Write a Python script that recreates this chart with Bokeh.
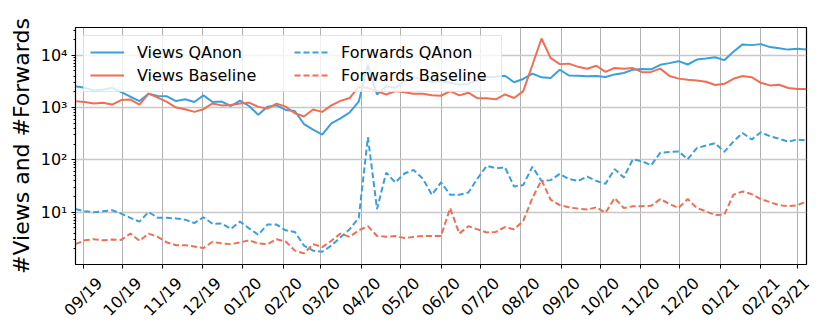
import pandas as pd
from math import pi
from bokeh.plotting import figure
from bokeh.models import FixedTicker, DatetimeTickFormatter, Legend, LegendItem, Range1d
from bokeh.embed import file_html
from bokeh.resources import INLINE

# ---------------- data (weekly, starting Monday 2019-08-26) ----------------
first_week = "2019-08-26"
n_weeks = 81
weeks = pd.date_range(first_week, periods=n_weeks, freq="7D")

views_qanon = [2560, 2380, 2120, 2180, 2380, 1970, 1610, 1330, 1840, 1660,
               1640, 1330, 1440, 1280, 1710, 1280, 1300, 1070, 1360, 1070,
               725, 1040, 1100, 900, 860, 484, 378, 304, 499, 620,
               805, 1300, 6560, 1780, 2560, 2380, 3180, 3780, 3420, 3090,
               3180, 2970, 2760, 2830, 3300, 3840, 3890, 4060, 3040, 3520,
               4440, 3780, 3680, 5280, 4100, 4060, 3950, 4000, 3840, 4300,
               4580, 5300, 5440, 5380, 6560, 7060, 7700, 6650, 8260, 8630,
               9170, 8050, 11700, 16100, 15600, 16300, 14300, 13600, 12800, 13300,
               12800]

views_baseline = [1315, 1280, 1190, 1240, 1140, 1390, 1420, 1140, 1840, 1550,
                  1280, 1000, 930, 826, 930, 1200, 1100, 1120, 1200, 1240,
                  1030, 957, 1190, 1040, 780, 676, 917, 826, 1100, 1340,
                  1520, 2500, 2380, 2060, 1780, 2060, 1970, 1840, 1840, 1710,
                  1680, 2060, 1710, 1920, 1500, 1500, 1440, 1780, 1520, 2060,
                  6500, 20900, 8780, 6760, 6900, 6000, 5500, 6300, 4800, 5690,
                  5500, 5690, 4750, 4800, 5550, 4000, 3570, 3400, 3300, 3110,
                  2700, 2840, 3550, 4000, 3800, 2970, 2650, 2720, 2360, 2260,
                  2260]

forwards_qanon = [11.5, 10.4, 10.0, 10.4, 10.9, 9.4, 7.8, 6.6, 10.1, 7.8,
                  7.8, 7.6, 7.2, 6.2, 8.0, 6.0, 6.1, 4.8, 6.6, 4.9,
                  3.7, 5.8, 5.8, 4.5, 4.2, 2.3, 1.84, 1.75, 2.3, 3.3,
                  4.7, 7.8, 272, 11.5, 57, 37, 55, 64, 44, 21.5,
                  37, 21.5, 21.5, 23.8, 44, 77, 69, 72, 31, 33,
                  74, 39.5, 41, 54, 43, 39.5, 48, 39.5, 35, 66.5,
                  46, 103, 94, 79, 137, 142, 145, 103, 168, 188,
                  209, 142, 224, 327, 245, 337, 284, 253, 224, 245,
                  234]

forwards_baseline = [2.45, 2.9, 3.04, 2.9, 3.0, 2.95, 3.9, 2.84, 3.9, 3.37,
                     2.64, 2.34, 2.34, 2.21, 2.06, 2.72, 2.52, 2.45, 2.64, 2.9,
                     2.52, 2.45, 3.04, 2.75, 1.84, 1.63, 2.45, 2.15, 2.84, 3.9,
                     3.37, 4.5, 5.4, 3.5, 3.4, 3.5, 3.2, 3.37, 3.5, 3.5,
                     3.5, 12.0, 3.9, 5.4, 4.7, 4.1, 4.2, 5.2, 4.7, 6.8,
                     18.6, 41, 17.3, 13.6, 12.4, 11.7, 11.2, 12.4, 9.7, 18.6,
                     12.0, 13.0, 13.0, 13.2, 17.8, 14.4, 12.0, 17.8, 12.0, 10.4,
                     8.8, 9.0, 21.5, 24.9, 22.1, 17.8, 15.6, 13.6, 13.0, 13.6,
                     16.1]

series_names = ["Views QAnon", "Views Baseline", "Forwards QAnon", "Forwards Baseline"]

y_tick_values = [10, 100, 1000, 10000]
y_tick_labels = ["10\u00b9", "10\u00b2", "10\u00b3", "10\u2074"]
month_ticks = pd.date_range("2019-09-01", "2021-03-01", freq="MS")

# ---------------- style ----------------
BLUE = "#3a9fdb"
ORANGE = "#ee6f54"
FONT = "DejaVu Sans"
LABEL_SHIFT = pd.Timedelta(hours=12 * 25)   # centres the rotated month labels on their ticks

x_start, x_end = weeks[0], weeks[-1]

p = figure(width=830, height=329, x_axis_type="datetime", y_axis_type="log",
           x_range=Range1d(x_start, x_end), y_range=Range1d(1.0, 10 ** 4.53),
           output_backend="svg", toolbar_location=None,
           min_border_left=75, min_border_right=24, min_border_top=27, min_border_bottom=62)

p.background_fill_color = "white"
p.border_fill_color = "white"
p.outline_line_color = "black"
p.outline_line_width = 1.2

r1 = p.line(weeks, views_qanon, line_color=BLUE, line_width=2)
r2 = p.line(weeks, views_baseline, line_color=ORANGE, line_width=2)
r3 = p.line(weeks, forwards_qanon, line_color=BLUE, line_width=2, line_dash="6 3")
r4 = p.line(weeks, forwards_baseline, line_color=ORANGE, line_width=2, line_dash="6 3")

# x axis: visible tick marks at month starts (drawn as "minor" ticks),
# labels carried by invisible major ticks nudged right (kept inside the range)
month_ms = [t.value / 1e6 for t in month_ticks]
label_ms = [min(t + LABEL_SHIFT, x_end).value / 1e6 for t in month_ticks]
xa = p.xaxis[0]
xa.ticker = FixedTicker(ticks=label_ms, minor_ticks=month_ms)
xa.formatter = DatetimeTickFormatter(days="%m/%y", months="%m/%y", years="%m/%y")
xa.axis_line_color = None
xa.major_tick_line_color = None
xa.major_tick_out = 4
xa.major_tick_in = 0
xa.minor_tick_line_color = "black"
xa.minor_tick_line_width = 1
xa.minor_tick_out = 4
xa.minor_tick_in = 0
xa.major_label_orientation = pi / 4
xa.major_label_standoff = 12
xa.major_label_text_font = FONT
xa.major_label_text_font_size = "16px"
xa.major_label_text_color = "black"
p.xgrid.ticker = FixedTicker(ticks=month_ms)

# y axis
minor = [m * 10 ** k for k in range(0, 5) for m in range(2, 10)]
ya = p.yaxis[0]
ya.ticker = FixedTicker(ticks=y_tick_values, minor_ticks=minor)
ya.major_label_overrides = dict(zip(y_tick_values, y_tick_labels))
ya.axis_line_color = "black"
ya.major_tick_line_color = "black"
ya.minor_tick_line_color = "black"
ya.major_tick_out = 4
ya.major_tick_in = 0
ya.minor_tick_out = 2
ya.minor_tick_in = 0
ya.major_label_text_font = FONT
ya.major_label_text_font_size = "16px"
ya.major_label_text_color = "black"
ya.major_label_standoff = 4
ya.axis_label = "#Views and #Forwards"
ya.axis_label_text_font = FONT
ya.axis_label_text_font_size = "22px"
ya.axis_label_text_font_style = "normal"
ya.axis_label_text_color = "black"
ya.axis_label_standoff = 4
p.ygrid.ticker = FixedTicker(ticks=y_tick_values)

p.xgrid.grid_line_color = "#b0b0b0"
p.ygrid.grid_line_color = "#c8c8c8"
p.xgrid.grid_line_width = 1
p.ygrid.grid_line_width = 1.5

legend = Legend(items=[LegendItem(label=series_names[0], renderers=[r1]),
                       LegendItem(label=series_names[1], renderers=[r2]),
                       LegendItem(label=series_names[2], renderers=[r3]),
                       LegendItem(label=series_names[3], renderers=[r4])],
                location="top_left", orientation="vertical", nrows=2,
                margin=8, padding=6, spacing=3,
                glyph_width=34, glyph_height=20, label_height=20,
                label_width=154, label_standoff=13,
                label_text_font=FONT, label_text_font_size="16px",
                label_text_color="black",
                background_fill_color="white", background_fill_alpha=0.8,
                border_line_color="#cccccc", border_line_width=1)
p.add_layout(legend)

open("out.html", "w").write(file_html(p, INLINE))
